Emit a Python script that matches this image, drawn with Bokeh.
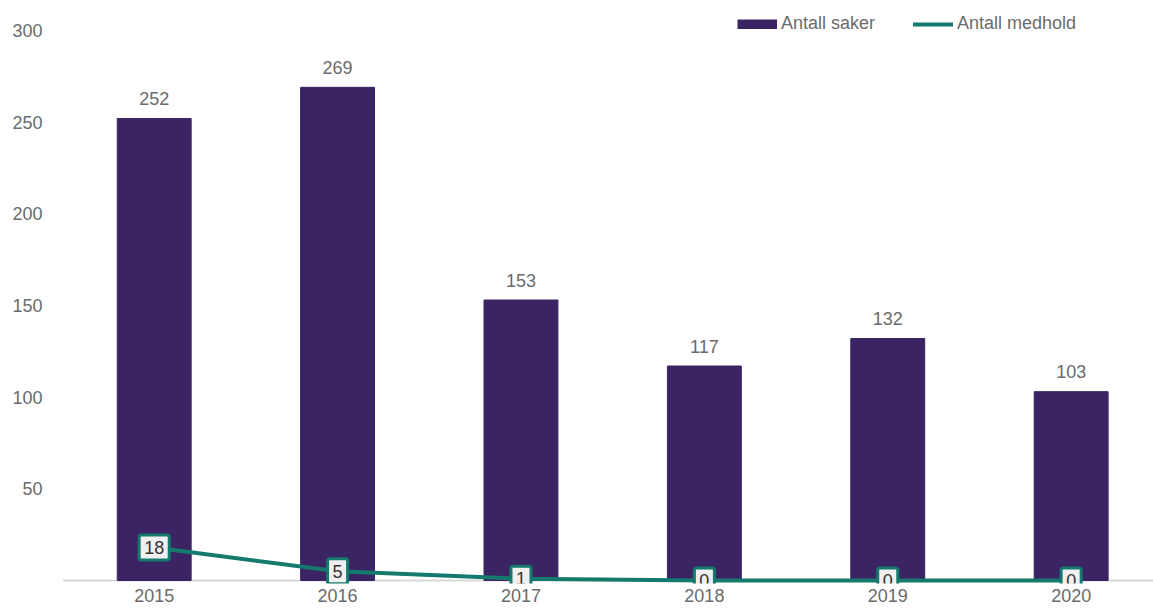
from bokeh.plotting import figure
from bokeh.models import (ColumnDataSource, LabelSet, Label, FixedTicker, Range1d, Legend,
                          LegendItem, Span)
from bokeh.core.properties import value
from bokeh.embed import file_html
from bokeh.resources import INLINE

years = ["2015", "2016", "2017", "2018", "2019", "2020"]
saker = [252, 269, 153, 117, 132, 103]
medhold = [18, 5, 1, 0, 0, 0]
y_ticks = [50, 100, 150, 200, 250, 300]

BAR = "#3b2463"
TEAL = "#137a6d"
GRAY = "#6b6b6b"
FONT = "Liberation Sans"

idx = list(range(len(years)))
src = ColumnDataSource(dict(x=idx, year=years, saker=saker, medhold=medhold,
                            saker_txt=[str(v) for v in saker]))

W, H = 1153, 610
top_b, bot_b = 10, 27
px_per_unit = 550 / 300.0
frame_h = H - top_b - bot_b
below = 3  # px of frame below the zero line
y_start = -below / px_per_unit
y_end = y_start + frame_h / px_per_unit

p = figure(width=W, height=H, output_backend="svg", toolbar_location=None,
           x_range=Range1d(-0.5, 5.449), y_range=Range1d(y_start, y_end),
           min_border_left=62, min_border_right=0, min_border_top=top_b, min_border_bottom=bot_b)
p.outline_line_color = None
p.grid.visible = False
p.background_fill_color = "white"

p.add_layout(Span(location=0, dimension="width", line_color="#d9d9d9", line_width=2,
                  level="underlay"))

bars = p.vbar(x="x", top="saker", bottom=0, width=0.403, source=src, color=BAR)
line = p.line(x="x", y="medhold", source=src, line_color=TEAL, line_width=4)

# legend swatches (no visible data)
nan = float("nan")
dummy = ColumnDataSource(dict(x=[nan], y=[nan]))
sw_bar = p.line(x="x", y="y", source=dummy, line_color=BAR, line_width=10, line_cap="butt")
sw_line = p.line(x="x", y="y", source=dummy, line_color=TEAL, line_width=4, line_cap="round")

p.add_layout(LabelSet(x="x", y="saker", text="saker_txt", source=src, text_align="center",
                      text_baseline="middle", y_offset=20, text_font_size="18px",
                      text_font=value(FONT), text_color=GRAY))

for xi, v in zip(idx, medhold):
    p.add_layout(Label(x=xi, y=v, text=str(v), text_align="center", text_baseline="middle",
                       text_font_size="18px", text_font=FONT, text_color="#333333",
                       background_fill_color="#f0f0f0", border_line_color=TEAL,
                       border_line_width=3, padding=(5, 6), border_radius=2))

p.yaxis.ticker = FixedTicker(ticks=y_ticks)
p.yaxis.axis_line_color = None
p.yaxis.major_tick_line_color = None
p.yaxis.minor_tick_line_color = None
p.yaxis.major_tick_out = 0
p.yaxis.major_label_standoff = 20
p.yaxis.major_label_text_font_size = "18px"
p.yaxis.major_label_text_font = FONT
p.yaxis.major_label_text_color = GRAY

p.xaxis.ticker = FixedTicker(ticks=idx)
p.xaxis.major_label_overrides = {i: y for i, y in zip(idx, years)}
p.xaxis.axis_line_color = None
p.xaxis.major_tick_line_color = None
p.xaxis.minor_tick_line_color = None
p.xaxis.major_tick_out = 0
p.xaxis.major_label_standoff = 5
p.xaxis.major_label_text_font_size = "18px"
p.xaxis.major_label_text_font = FONT
p.xaxis.major_label_text_color = GRAY

legend = Legend(items=[LegendItem(label="Antall saker", renderers=[sw_bar]),
                       LegendItem(label="Antall medhold", renderers=[sw_line])],
                orientation="horizontal", location=(675, frame_h - 24),
                border_line_color=None, background_fill_alpha=0, padding=0, margin=0,
                spacing=38, label_standoff=4, glyph_width=40, glyph_height=10,
                label_text_font_size="18px", label_text_font=FONT, label_text_color=GRAY)
p.add_layout(legend)

open("out.html", "w").write(file_html(p, INLINE))
